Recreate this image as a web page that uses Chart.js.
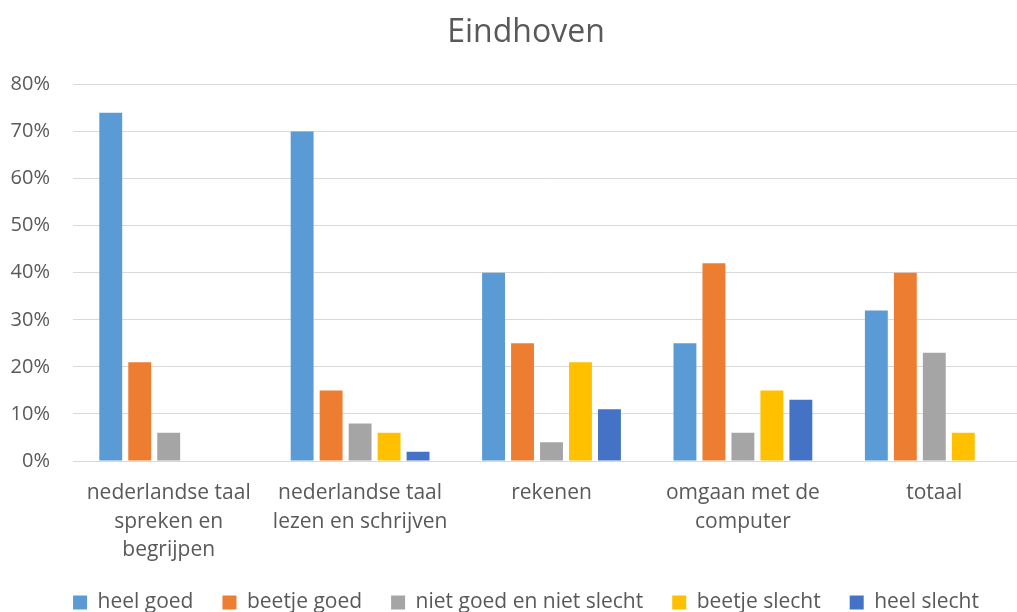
<!DOCTYPE html>
<html>
<head>
<meta charset="utf-8">
<script src="https://cdn.jsdelivr.net/npm/chart.js@4/dist/chart.umd.min.js"></script>
<style>
  html, body { margin: 0; padding: 0; background: #fff; overflow: hidden; }
  #wrap { width: 1036px; height: 623px; }
</style>
</head>
<body>
<div id="wrap"><canvas id="grafica"></canvas></div>
<script>
// categorieën en reeksen (percentages)
const categorieen = [
  ['nederlandse taal', 'spreken en', 'begrijpen'],
  ['nederlandse taal', 'lezen en schrijven'],
  'rekenen',
  ['omgaan met de', 'computer'],
  'totaal'
];
const heelGoed = [74, 70, 40, 25, 32];
const beetjeGoed = [21, 15, 25, 42, 40];
const nietGoedNietSlecht = [6, 8, 4, 6, 23];
const beetjeSlecht = [0, 6, 21, 15, 6];
const heelSlecht = [0, 2, 11, 13, 0];
const yTicks = [0, 10, 20, 30, 40, 50, 60, 70, 80];

const lettertype = "'Open Sans', 'Liberation Sans', sans-serif";
const grijs = '#595959';

function reeks(label, data, kleur) {
  return {
    label: label,
    data: data,
    backgroundColor: kleur,
    borderWidth: 0,
    categoryPercentage: 0.757,
    barPercentage: 0.79
  };
}

// y-as labels mogen buiten de smalle asbreedte vallen (niet afknippen)
const yLabelsRuimte = {
  id: 'yLabelsRuimte',
  afterLayout(chart) {
    chart.scales.y.left = 0;
  }
};

new Chart(document.getElementById('grafica'), {
  type: 'bar',
  data: {
    labels: categorieen,
    datasets: [
      reeks('heel goed', heelGoed, '#5B9BD5'),
      reeks('beetje goed', beetjeGoed, '#ED7D31'),
      reeks('niet goed en niet slecht', nietGoedNietSlecht, '#A5A5A5'),
      reeks('beetje slecht', beetjeSlecht, '#FFC000'),
      reeks('heel slecht', heelSlecht, '#4472C4')
    ]
  },
  plugins: [yLabelsRuimte],
  options: {
    responsive: true,
    maintainAspectRatio: false,
    animation: false,
    layout: { padding: { top: 14, left: 22, right: 6, bottom: 0 } },
    plugins: {
      title: {
        display: true,
        text: 'Eindhoven',
        color: grijs,
        font: { family: lettertype, size: 32, weight: 'normal' },
        padding: { top: 0, bottom: 32 }
      },
      legend: {
        position: 'bottom',
        labels: {
          color: grijs,
          font: { family: lettertype, size: 21 },
          boxWidth: 14,
          boxHeight: 14,
          padding: 29
        }
      },
      tooltip: { enabled: false }
    },
    scales: {
      x: {
        grid: { display: false },
        border: { color: '#d9d9d9', width: 1 },
        ticks: {
          color: grijs,
          font: { family: lettertype, size: 21, lineHeight: 1.38 },
          maxRotation: 0,
          autoSkip: false,
          padding: 9
        },
        // labelruimte iets krapper, legenda dichter bij de as
        afterFit: function (scale) {
          scale.height -= 11;
        }
      },
      y: {
        min: 0,
        max: 80,
        afterBuildTicks: function (as) {
          as.ticks = yTicks.map(v => ({ value: v }));
        },
        afterFit: function (scale) {
          scale.width = 51;
        },
        grid: { color: '#d9d9d9', lineWidth: 1, drawTicks: false },
        border: { display: false },
        ticks: {
          color: grijs,
          font: { family: lettertype, size: 20 },
          padding: 23,
          callback: v => v + '%'
        }
      }
    }
  }
});
</script>
</body>
</html>
